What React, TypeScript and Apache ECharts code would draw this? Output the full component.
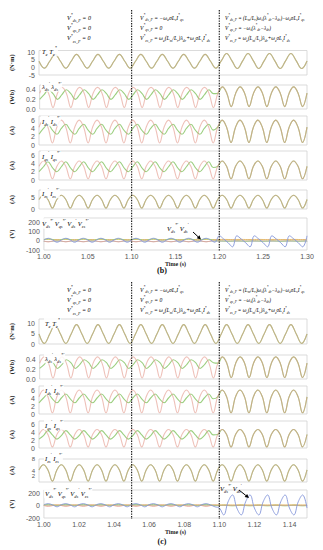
import React, { useEffect, useRef } from "react";
import * as echarts from "echarts";

// ---------- time bases ----------
const T0 = 1.0;
const X_MAX_B = 1.3;
const X_MAX_C = 1.15;
const X_INT_B = 0.05;
const X_INT_C = 0.02;
const STEP_B = 0.005;
const STEP_C = 0.0025;
const TQ_STEP_B = 0.006;
const TQ_STEP_C = 0.003;
const FAULT_B = [1.1, 1.2];
const FAULT_C = [1.05, 1.1];
const SEC3 = 40; // sample index where the third interval starts

const yTitles = ["(N·m)", "(Wb)", "(A)", "(A)", "(A)", "(V)"];

// ---------- figure (b) values ----------
const torqueB = [
  4.0, -0.5, 4.0, 8.5, 4.0, -0.5, 4.0, 8.5, 4.0, -0.5, 4.0, 8.5, 4.0, -0.5, 4.0, 8.5,
  4.0, -0.5, 4.0, 8.5, 4.0, -0.5, 4.0, 8.5, 4.0, -0.5, 4.0, 8.5, 4.0, -0.5, 4.0, 8.5,
  4.0, -0.5, 4.2, 9.0, 4.2, -0.8, 4.2, 9.0, 4.2, -0.8, 4.2, 9.0, 4.2, -0.8, 4.2, 9.0,
  4.2, -0.8, 4.2,
];
const fluxRefB = [
  0.33, 0.45, 0.33, 0.03, 0.33, 0.45, 0.33, 0.03, 0.33, 0.45, 0.33, 0.03, 0.33, 0.45, 0.33, 0.03, 0.33, 0.45, 0.33, 0.03,
  0.33, 0.45, 0.33, 0.03, 0.33, 0.45, 0.33, 0.03, 0.33, 0.45, 0.33, 0.03, 0.33, 0.45, 0.33, 0.03, 0.33, 0.45, 0.33, 0.03,
  0.33, 0.46, 0.33, 0.05, 0.33, 0.46, 0.33, 0.05, 0.33, 0.46, 0.33, 0.05, 0.33, 0.46, 0.33, 0.05, 0.33, 0.46, 0.33, 0.05,
  0.33,
];
const fluxActB12 = [
  0.2, 0.3, 0.4, 0.32, 0.2, 0.3, 0.4, 0.32, 0.2, 0.3, 0.4, 0.32, 0.2, 0.3, 0.4, 0.32, 0.2, 0.3, 0.4, 0.32,
  0.2, 0.3, 0.4, 0.32, 0.2, 0.3, 0.4, 0.32, 0.2, 0.3, 0.4, 0.32, 0.2, 0.3, 0.4, 0.32, 0.2, 0.3, 0.4, 0.32,
];
const idRefB = [
  4.3, 6.0, 4.3, 0.5, 4.3, 6.0, 4.3, 0.5, 4.3, 6.0, 4.3, 0.5, 4.3, 6.0, 4.3, 0.5, 4.3, 6.0, 4.3, 0.5,
  4.3, 6.0, 4.3, 0.5, 4.3, 6.0, 4.3, 0.5, 4.3, 6.0, 4.3, 0.5, 4.3, 6.0, 4.3, 0.5, 4.3, 6.0, 4.3, 0.5,
  4.3, 6.0, 4.3, 0.6, 4.3, 6.0, 4.3, 0.6, 4.3, 6.0, 4.3, 0.6, 4.3, 6.0, 4.3, 0.6, 4.3, 6.0, 4.3, 0.6,
  4.3,
];
const idActB12 = [
  2.6, 4.0, 5.0, 3.6, 2.6, 4.0, 5.0, 3.6, 2.6, 4.0, 5.0, 3.6, 2.6, 4.0, 5.0, 3.6, 2.6, 4.0, 5.0, 3.6,
  2.6, 4.0, 5.0, 3.6, 2.6, 4.0, 5.0, 3.6, 2.6, 4.0, 5.0, 3.6, 2.6, 4.0, 5.0, 3.6, 2.6, 4.0, 5.0, 3.6,
];
const iqRefB = [
  3.3, 4.6, 3.3, 0.3, 3.3, 4.6, 3.3, 0.3, 3.3, 4.6, 3.3, 0.3, 3.3, 4.6, 3.3, 0.3, 3.3, 4.6, 3.3, 0.3,
  3.3, 4.6, 3.3, 0.3, 3.3, 4.6, 3.3, 0.3, 3.3, 4.6, 3.3, 0.3, 3.3, 4.6, 3.3, 0.3, 3.3, 4.6, 3.3, 0.3,
  3.3, 4.6, 3.3, 0.3, 3.3, 4.6, 3.3, 0.3, 3.3, 4.6, 3.3, 0.3, 3.3, 4.6, 3.3, 0.3, 3.3, 4.6, 3.3, 0.3,
  3.3,
];
const iqActB12 = [
  2.0, 3.2, 4.4, 3.0, 2.0, 3.2, 4.4, 3.0, 2.0, 3.2, 4.4, 3.0, 2.0, 3.2, 4.4, 3.0, 2.0, 3.2, 4.4, 3.0,
  2.0, 3.2, 4.4, 3.0, 2.0, 3.2, 4.4, 3.0, 2.0, 3.2, 4.4, 3.0, 2.0, 3.2, 4.4, 3.0, 2.0, 3.2, 4.4, 3.0,
];
const izB = [
  4.0, 5.8, 4.0, 0.4, 4.0, 5.8, 4.0, 0.4, 4.0, 5.8, 4.0, 0.4, 4.0, 5.8, 4.0, 0.4, 4.0, 5.8, 4.0, 0.4,
  4.0, 5.8, 4.0, 0.4, 4.0, 5.8, 4.0, 0.4, 4.0, 5.8, 4.0, 0.4, 4.0, 5.8, 4.0, 0.4, 4.0, 5.8, 4.0, 0.4,
  4.0, 5.8, 4.0, 0.4, 4.0, 5.8, 4.0, 0.4, 4.0, 5.8, 4.0, 0.4, 4.0, 5.8, 4.0, 0.4, 4.0, 5.8, 4.0, 0.4,
  4.0,
];
const vGreenB = [
  15, 22, 15, 5, 15, 22, 15, 5, 15, 22, 15, 5, 15, 22, 15, 5, 15, 22, 15, 5,
  15, 22, 15, 5, 15, 22, 15, 5, 15, 22, 15, 5, 15, 22, 15, 5, 15, 22, 15, 5,
  2, 0, -3, 0, 2, 0, -3, 0, 2, 0, -3, 0, 2, 0, -3, 0, 2, 0, -3, 0,
  2,
];
const vRedB = [
  0, -12, 0, 10, 0, -12, 0, 10, 0, -12, 0, 10, 0, -12, 0, 10, 0, -12, 0, 10,
  0, -12, 0, 10, 0, -12, 0, 10, 0, -12, 0, 10, 0, -12, 0, 10, 0, -12, 0, 10,
  8, 10, 8, 10, 8, 10, 8, 10, 8, 10, 8, 10, 8, 10, 8, 10, 8, 10, 8, 10,
  8,
];
const vBlueB = [
  10, 28, 10, -15, 10, 28, 10, -15, 10, 28, 10, -15, 10, 28, 10, -15, 10, 28, 10, -15,
  10, 28, 10, -15, 10, 28, 10, -15, 10, 28, 10, -15, 10, 28, 10, -15, 10, 28, 10, -15,
  55, 20, -20, -65, 55, 20, -20, -65, 55, 20, -20, -65, 55, 20, -20, -65, 55, 20, -20, -65,
  55,
];
const vYellowB = [
  15, 16, 15, 14, 15, 16, 15, 14, 15, 16, 15, 14, 15, 16, 15, 14, 15, 16, 15, 14,
  15, 16, 15, 14, 15, 16, 15, 14, 15, 16, 15, 14, 15, 16, 15, 14, 15, 16, 15, 14,
  15, 16, 15, 14, 15, 16, 15, 14, 15, 16, 15, 14, 15, 16, 15, 14, 15, 16, 15, 14,
  15,
];

// ---------- figure (c) values ----------
const torqueC = [
  4.8, 0.3, 4.8, 9.3, 4.8, 0.3, 4.8, 9.3, 4.8, 0.3, 4.8, 9.3, 4.8, 0.3, 4.8, 9.3,
  4.8, 0.3, 4.8, 9.3, 4.8, 0.3, 4.8, 9.3, 4.8, 0.3, 4.8, 9.3, 4.8, 0.3, 4.8, 9.3,
  4.8, 0.3, 4.8, 9.3, 4.8, 0.3, 4.8, 9.3, 4.8, 0.3, 4.8, 9.3, 4.8, 0.3, 4.8, 9.3,
  4.8, 0.3, 4.8,
];
const fluxRefC = [
  0.33, 0.46, 0.33, 0.02, 0.33, 0.46, 0.33, 0.02, 0.33, 0.46, 0.33, 0.02, 0.33, 0.46, 0.33, 0.02, 0.33, 0.46, 0.33, 0.02,
  0.33, 0.46, 0.33, 0.02, 0.33, 0.46, 0.33, 0.02, 0.33, 0.46, 0.33, 0.02, 0.33, 0.46, 0.33, 0.02, 0.33, 0.46, 0.33, 0.02,
  0.33, 0.46, 0.33, 0.03, 0.33, 0.46, 0.33, 0.03, 0.33, 0.46, 0.33, 0.03, 0.33, 0.46, 0.33, 0.03, 0.33, 0.46, 0.33, 0.03,
  0.33,
];
const fluxActC12 = [
  0.22, 0.3, 0.4, 0.34, 0.22, 0.3, 0.4, 0.34, 0.22, 0.3, 0.4, 0.34, 0.22, 0.3, 0.4, 0.34, 0.22, 0.3, 0.4, 0.34,
  0.22, 0.3, 0.4, 0.34, 0.22, 0.3, 0.4, 0.34, 0.22, 0.3, 0.4, 0.34, 0.22, 0.3, 0.4, 0.34, 0.22, 0.3, 0.4, 0.34,
];
const idRefC = [
  4.3, 6.0, 4.3, 0.3, 4.3, 6.0, 4.3, 0.3, 4.3, 6.0, 4.3, 0.3, 4.3, 6.0, 4.3, 0.3, 4.3, 6.0, 4.3, 0.3,
  4.3, 6.0, 4.3, 0.3, 4.3, 6.0, 4.3, 0.3, 4.3, 6.0, 4.3, 0.3, 4.3, 6.0, 4.3, 0.3, 4.3, 6.0, 4.3, 0.3,
  4.3, 6.0, 4.3, 0.3, 4.3, 6.0, 4.3, 0.3, 4.3, 6.0, 4.3, 0.3, 4.3, 6.0, 4.3, 0.3, 4.3, 6.0, 4.3, 0.3,
  4.3,
];
const idActC12 = [
  2.8, 4.0, 5.0, 3.8, 2.8, 4.0, 5.0, 3.8, 2.8, 4.0, 5.0, 3.8, 2.8, 4.0, 5.0, 3.8, 2.8, 4.0, 5.0, 3.8,
  2.8, 4.0, 5.0, 3.8, 2.8, 4.0, 5.0, 3.8, 2.8, 4.0, 5.0, 3.8, 2.8, 4.0, 5.0, 3.8, 2.8, 4.0, 5.0, 3.8,
];
const iqRefC = [
  3.5, 4.8, 3.5, 0.3, 3.5, 4.8, 3.5, 0.3, 3.5, 4.8, 3.5, 0.3, 3.5, 4.8, 3.5, 0.3, 3.5, 4.8, 3.5, 0.3,
  3.5, 4.8, 3.5, 0.3, 3.5, 4.8, 3.5, 0.3, 3.5, 4.8, 3.5, 0.3, 3.5, 4.8, 3.5, 0.3, 3.5, 4.8, 3.5, 0.3,
  3.5, 4.8, 3.5, 0.3, 3.5, 4.8, 3.5, 0.3, 3.5, 4.8, 3.5, 0.3, 3.5, 4.8, 3.5, 0.3, 3.5, 4.8, 3.5, 0.3,
  3.5,
];
const iqActC12 = [
  2.3, 3.2, 4.5, 3.4, 2.3, 3.2, 4.5, 3.4, 2.3, 3.2, 4.5, 3.4, 2.3, 3.2, 4.5, 3.4, 2.3, 3.2, 4.5, 3.4,
  2.3, 3.2, 4.5, 3.4, 2.3, 3.2, 4.5, 3.4, 2.3, 3.2, 4.5, 3.4, 2.3, 3.2, 4.5, 3.4, 2.3, 3.2, 4.5, 3.4,
];
const izC = [
  4.2, 6.0, 4.2, 0.3, 4.2, 6.0, 4.2, 0.3, 4.2, 6.0, 4.2, 0.3, 4.2, 6.0, 4.2, 0.3, 4.2, 6.0, 4.2, 0.3,
  4.2, 6.0, 4.2, 0.3, 4.2, 6.0, 4.2, 0.3, 4.2, 6.0, 4.2, 0.3, 4.2, 6.0, 4.2, 0.3, 4.2, 6.0, 4.2, 0.3,
  4.2, 6.0, 4.2, 0.3, 4.2, 6.0, 4.2, 0.3, 4.2, 6.0, 4.2, 0.3, 4.2, 6.0, 4.2, 0.3, 4.2, 6.0, 4.2, 0.3,
  4.2,
];
const vGreenC = [
  10, 20, 10, 0, 10, 20, 10, 0, 10, 20, 10, 0, 10, 20, 10, 0, 10, 20, 10, 0,
  10, 20, 10, 0, 10, 20, 10, 0, 10, 20, 10, 0, 10, 20, 10, 0, 10, 20, 10, 0,
  0, 5, 0, -5, 0, 5, 0, -5, 0, 5, 0, -5, 0, 5, 0, -5, 0, 5, 0, -5,
  0,
];
const vRedC = [
  0, -15, 0, 12, 0, -15, 0, 12, 0, -15, 0, 12, 0, -15, 0, 12, 0, -15, 0, 12,
  0, -15, 0, 12, 0, -15, 0, 12, 0, -15, 0, 12, 0, -15, 0, 12, 0, -15, 0, 12,
  5, 6, 5, 4, 5, 6, 5, 4, 5, 6, 5, 4, 5, 6, 5, 4, 5, 6, 5, 4,
  5,
];
const vBlueC = [
  15, 30, 10, -20, 15, 30, 10, -20, 15, 30, 10, -20, 15, 30, 10, -20, 15, 30, 10, -20,
  15, 30, 10, -20, 15, 30, 10, -20, 15, 30, 10, -20, 15, 30, 10, -20, 15, 30, 10, -20,
  -40, -150, 60, 170, -40, -150, 60, 170, -40, -150, 60, 170, -40, -150, 60, 170, -40, -150, 60, 170,
  -40,
];
const vYellowC = [
  10, 12, 10, 8, 10, 12, 10, 8, 10, 12, 10, 8, 10, 12, 10, 8, 10, 12, 10, 8,
  10, 12, 10, 8, 10, 12, 10, 8, 10, 12, 10, 8, 10, 12, 10, 8, 10, 12, 10, 8,
  10, 12, 10, 8, 10, 12, 10, 8, 10, 12, 10, 8, 10, 12, 10, 8, 10, 12, 10, 8,
  10,
];

// ---------- texts ----------
const eqCol1 = ["V^{*}_{ds_F} = 0", "V^{*}_{qs_F} = 0", "V^{*}_{zs_F} = 0"];
const eqCol2 = [
  "V^{*}_{ds_F} = −ω_{e}σL_{s}I^{*}_{qs}",
  "V^{*}_{qs_F} = 0",
  "V^{*}_{zs_F} = ω_{e}(L_{m}/L_{r})λ_{dr}+ω_{e}σL_{s}I^{*}_{ds}",
];
const eqCol3 = [
  "V^{*}_{ds_F} = (L_{m}/L_{r})ω_{s}(λ^{*}_{dr}−λ_{dr})−ω_{e}σL_{s}I^{*}_{qs}",
  "V^{*}_{qs_F} = −ω_{s}(λ^{*}_{dr}−λ_{dr})",
  "V^{*}_{zs_F} = ω_{e}(L_{m}/L_{r})λ_{dr}+ω_{e}σL_{s}I^{*}_{ds}",
];
const legendItems: [string, string][][] = [
  [["T_{e}", "g"], [" T_{e}^{*}", "r"]],
  [["λ_{ds}^{'}", "g"], [" λ_{ds}^{*'}", "r"]],
  [["I_{ds}^{'}", "g"], [" I_{ds}^{*'}", "r"]],
  [["I_{qs}^{'}", "g"], [" I_{qs}^{*'}", "r"]],
  [["I_{zs}^{'}", "g"], [" I_{zs}^{*'}", "r"]],
  [["V_{ds}^{*'}", "g"], [" V_{qs}^{*'}", "r"], [" V_{ds}^{'}", "b"], [" V_{zs}^{*'}", "y"]],
];
const annotItems: [string, string][] = [["V_{ds}^{*'}", "g"], [" V_{ds}^{'}", "b"]];

const COLORS: Record<string, string> = {
  g: "#9ccf80",
  r: "#e2988a",
  b: "#8597da",
  y: "#e6cb66",
  k: "#2a2a2a",
};
const LEGEND_COLORS: Record<string, string> = {
  g: "#5fae4a",
  r: "#d0604e",
  b: "#5a70cc",
  y: "#d8b23a",
  k: "#2a2a2a",
};

function richStyles(fs: number, palette: Record<string, string>) {
  const out: any = {};
  for (const k of Object.keys(palette)) {
    const base = { fontFamily: "Liberation Serif", fontStyle: "italic", color: palette[k] };
    out[k + "n"] = { ...base, fontSize: fs, lineHeight: fs + 4, verticalAlign: "middle" };
    out[k + "s"] = { ...base, fontSize: fs * 0.68, lineHeight: fs + 4, verticalAlign: "bottom" };
    out[k + "p"] = { ...base, fontSize: fs * 0.68, lineHeight: fs + 4, verticalAlign: "top" };
  }
  return out;
}

function toRich(s: string, c: string) {
  let out = "";
  let buf = "";
  let i = 0;
  const flush = () => {
    if (buf) {
      out += `{${c}n|${buf}}`;
      buf = "";
    }
  };
  while (i < s.length) {
    const ch = s[i];
    if ((ch === "_" || ch === "^") && s[i + 1] === "{") {
      flush();
      const end = s.indexOf("}", i + 2);
      out += `{${c}${ch === "_" ? "s" : "p"}|${s.slice(i + 2, end)}}`;
      i = end + 1;
    } else {
      buf += ch;
      i++;
    }
  }
  flush();
  return out;
}

function richText(x: number, y: number, items: [string, string][], fs: number, bg?: string) {
  return {
    type: "text",
    x,
    y,
    z: 50,
    style: {
      text: items.map(([s, c]) => toRich(s, c)).join(""),
      rich: richStyles(fs, LEGEND_COLORS),
      textAlign: "left",
      textVerticalAlign: "middle",
      align: "left",
      verticalAlign: "middle",
      backgroundColor: bg,
      padding: bg ? [0, 1] : 0,
    },
  };
}

function arrow(x1: number, y1: number, x2: number, y2: number) {
  const dx = x2 - x1;
  const dy = y2 - y1;
  const L = Math.sqrt(dx * dx + dy * dy);
  const ux = dx / L;
  const uy = dy / L;
  const bx = x2 - ux * 4;
  const by = y2 - uy * 4;
  return [
    { type: "line", z: 60, shape: { x1, y1, x2: bx, y2: by }, style: { stroke: "#000", lineWidth: 1 } },
    {
      type: "polygon",
      z: 60,
      shape: { points: [[x2, y2], [bx - uy * 2, by + ux * 2], [bx + uy * 2, by - ux * 2]] },
      style: { fill: "#000" },
    },
  ];
}

const pts = (vals: number[], step: number) => vals.map((v, i) => [+(T0 + i * step).toFixed(5), v]);

function line(idx: number, vals: number[], step: number, color: string, opacity = 1, width = 1.1) {
  return {
    type: "line",
    xAxisIndex: idx,
    yAxisIndex: idx,
    data: pts(vals, step),
    showSymbol: false,
    smooth: 0.4,
    silent: true,
    lineStyle: { color, width, opacity },
  };
}

const G = COLORS.g;
const R = COLORS.r;

const gridBoxes = [
  [50.5, 24.5], [85, 24], [116, 29], [151, 29], [190, 19], [218, 32],
  [319, 25], [355, 24], [386, 28], [421, 27], [459, 23], [490, 28],
];
const yRanges = [
  [-5, 11, 5], [0, 0.5, 0.2], [0, 7, 2], [0, 7, 2], [0, 8, 5], [-100, 250, 100],
  [0, 12, 5], [0, 0.5, 0.2], [0, 7, 2], [0, 7, 2], [0, 8, 2], [-200, 250, 200],
];

export default function App() {
  const ref = useRef<HTMLDivElement>(null);
  useEffect(() => {
    if (!ref.current) return;
    const chart = echarts.init(ref.current, null, { renderer: "svg" });
    const grid = gridBoxes.map(([top, height]) => ({
      left: 38,
      right: 16,
      top,
      height,
      show: true,
      borderColor: "#d2d2d2",
      borderWidth: 0.8,
    }));
    const xAxis = gridBoxes.map((_, i) => {
      const isC = i >= 6;
      const bottom = i === 5 || i === 11;
      return {
        type: "value",
        gridIndex: i,
        min: T0,
        max: isC ? X_MAX_C : X_MAX_B,
        interval: isC ? X_INT_C : X_INT_B,
        axisLine: { show: bottom, lineStyle: { color: "#bbb", width: 0.8 } },
        axisTick: { show: false },
        splitLine: { show: false },
        axisLabel: {
          show: bottom,
          fontSize: 7,
          fontFamily: "Liberation Sans",
          color: "#555",
          margin: 3,
          showMaxLabel: !isC,
          formatter: (v: number) => v.toFixed(2),
        },
        name: bottom ? "Time (s)" : "",
        nameLocation: "middle",
        nameGap: 9,
        nameTextStyle: { fontSize: 6, fontFamily: "Liberation Serif", fontWeight: "bold", color: "#222" },
      };
    });
    const yAxis = yRanges.map(([min, max, interval], i) => ({
      type: "value",
      gridIndex: i,
      min,
      max,
      interval,
      axisLine: { show: false },
      axisTick: { show: false },
      splitLine: { show: false },
      axisLabel: {
        fontSize: i === 10 ? 6 : 7,
        fontFamily: "Liberation Sans",
        color: "#555",
        margin: 4,
        hideOverlap: false,
        showMaxLabel: i === 10,
        formatter: (v: number) => (interval < 1 ? v.toFixed(1) : String(v)),
      },
      name: yTitles[i % 6],
      nameLocation: "middle",
      nameRotate: 90,
      nameGap: 24,
      nameTextStyle: { fontSize: 6.5, fontFamily: "Liberation Serif", fontWeight: "bold", color: "#222" },
    }));

    const cat = (pre: number[], ref3: number[]) => pre.concat(ref3.slice(SEC3));

    const series = [
      // (b)
      line(0, torqueB, TQ_STEP_B, G),
      line(0, torqueB, TQ_STEP_B, R, 0.55),
      line(1, cat(fluxActB12, fluxRefB), STEP_B, G),
      line(1, fluxRefB, STEP_B, R, 0.6),
      line(2, cat(idActB12, idRefB), STEP_B, G),
      line(2, idRefB, STEP_B, R, 0.6),
      line(3, cat(iqActB12, iqRefB), STEP_B, G),
      line(3, iqRefB, STEP_B, R, 0.6),
      line(4, izB, STEP_B, G),
      line(4, izB, STEP_B, R, 0.55),
      line(5, vYellowB, STEP_B, COLORS.y, 1, 1),
      line(5, vGreenB, STEP_B, G, 0.9, 1),
      line(5, vRedB, STEP_B, R, 0.7, 1),
      line(5, vBlueB, STEP_B, COLORS.b, 0.9, 1),
      // (c)
      line(6, torqueC, TQ_STEP_C, G),
      line(6, torqueC, TQ_STEP_C, R, 0.55),
      line(7, cat(fluxActC12, fluxRefC), STEP_C, G),
      line(7, fluxRefC, STEP_C, R, 0.6),
      line(8, cat(idActC12, idRefC), STEP_C, G),
      line(8, idRefC, STEP_C, R, 0.6),
      line(9, cat(iqActC12, iqRefC), STEP_C, G),
      line(9, iqRefC, STEP_C, R, 0.6),
      line(10, izC, STEP_C, G),
      line(10, izC, STEP_C, R, 0.55),
      line(11, vYellowC, STEP_C, COLORS.y, 1, 1),
      line(11, vGreenC, STEP_C, G, 0.9, 1),
      line(11, vRedC, STEP_C, R, 0.7, 1),
      line(11, vBlueC, STEP_C, COLORS.b, 0.9, 1),
    ];

    chart.setOption({
      animation: false,
      backgroundColor: "#fff",
      grid,
      xAxis,
      yAxis,
      series,
    });

    const graphics: any[] = [];
    // equations
    const eqRowsB = [17.7, 27.7, 38.3];
    const colX = [67, 140, 225];
    const colFs = [6, 5.6, 5.2];
    [0, 272].forEach((off) => {
      [eqCol1, eqCol2, eqCol3].forEach((col, ci) => {
        col.forEach((s, ri) => {
          graphics.push(richText(colX[ci], eqRowsB[ri] + off, [[s, "k"]], colFs[ci]));
        });
      });
    });
    // in-plot legends
    const legY = [51, 86.5, 121, 156, 193, 223.5, 323, 358, 390, 425, 458, 493];
    legY.forEach((y, i) => {
      graphics.push(richText(i < 6 ? 41 : 44, y, legendItems[i % 6], 6.5, "rgba(255,255,255,0.85)"));
    });
    // annotations
    graphics.push(richText(167, 228, annotItems, 6.5));
    graphics.push(...arrow(193, 232, 201, 239.5));
    graphics.push(richText(220, 488.5, annotItems, 6.5));
    graphics.push(...arrow(239, 490, 249, 498));
    // fault instants (dotted lines)
    const dotted = (x: number, y1: number, y2: number) => ({
      type: "line",
      z: 80,
      shape: { x1: x, y1, x2: x, y2 },
      style: { stroke: "#222", lineWidth: 1.2, lineDash: [1.4, 1.2] },
    });
    FAULT_B.forEach((t) => {
      const x = chart.convertToPixel({ xAxisIndex: 5 }, t) as number;
      graphics.push(dotted(x, 10, 251));
    });
    FAULT_C.forEach((t) => {
      const x = chart.convertToPixel({ xAxisIndex: 11 }, t) as number;
      graphics.push(dotted(x, 282, 519));
    });
    // sub-figure labels
    const lab = (text: string, y: number) => ({
      type: "text",
      x: 162,
      y,
      style: {
        text,
        fontSize: 8,
        fontFamily: "Liberation Serif",
        fontWeight: "bold",
        fill: "#111",
        textAlign: "center",
        textVerticalAlign: "middle",
        align: "center",
        verticalAlign: "middle",
      },
    });
    graphics.push(lab("(b)", 270), lab("(c)", 541));

    chart.setOption({ graphic: graphics });
    return () => chart.dispose();
  }, []);
  return (
    <div
      ref={ref}
      style={{ position: "absolute", left: 0, top: 0, width: 323, height: 550, background: "#fff" }}
    />
  );
}
